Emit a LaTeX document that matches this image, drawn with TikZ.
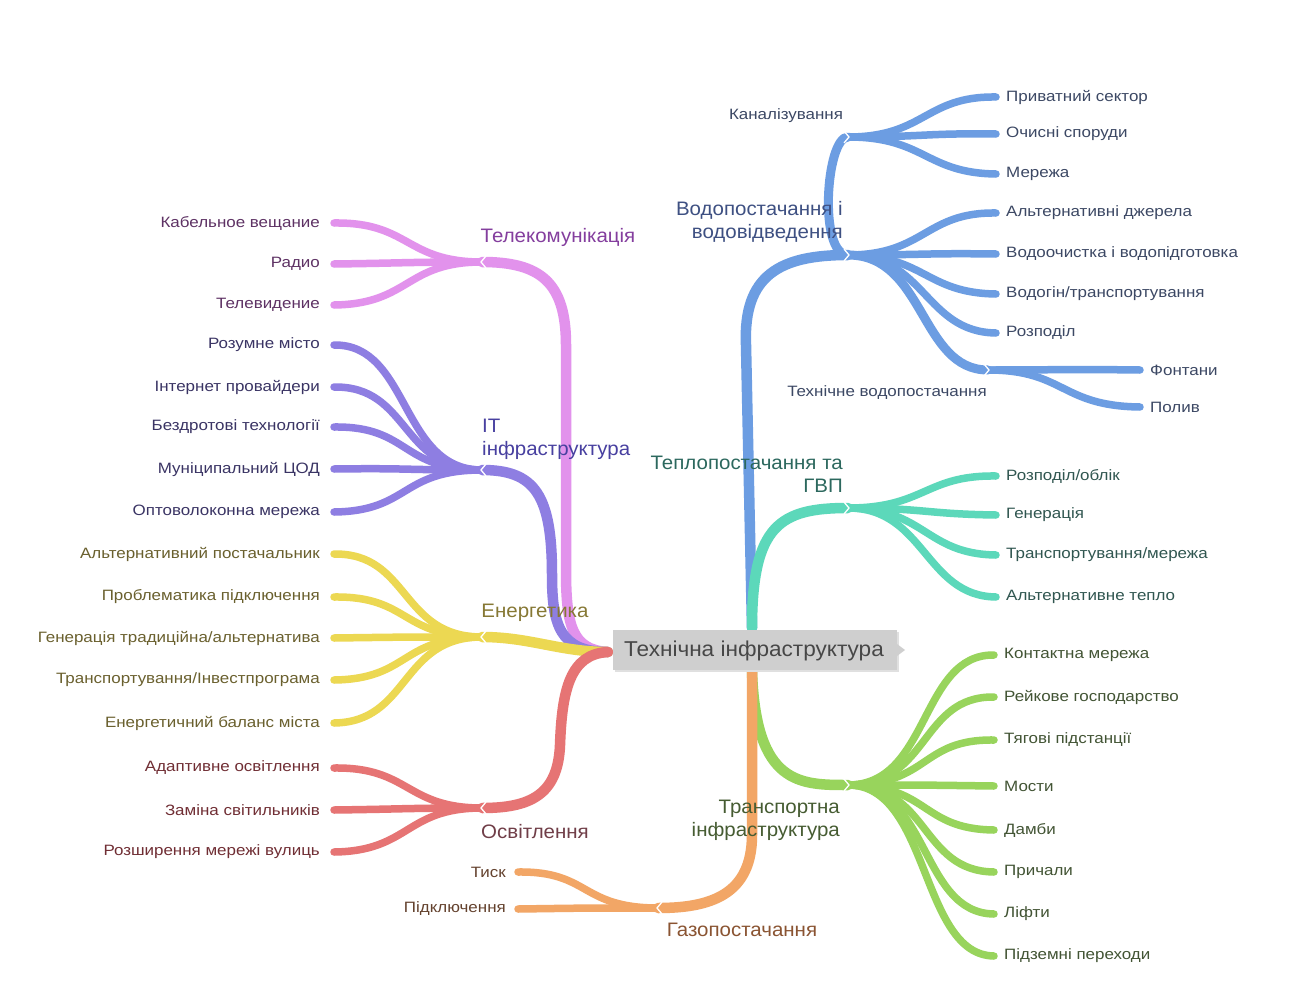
\documentclass[tikz,border=0pt]{standalone}
\usepackage{fontspec}
\setmainfont{Liberation Sans}
\newfontfamily\leaffont[FakeStretch=1.13]{Liberation Sans}
\newfontfamily\bigfont[FakeStretch=1.05]{Liberation Sans}
\usetikzlibrary{calc}
\definecolor{cB}{RGB}{108,157,226}
\definecolor{cT}{RGB}{92,216,186}
\definecolor{cG}{RGB}{152,212,92}
\definecolor{cO}{RGB}{242,166,102}
\definecolor{cR}{RGB}{230,116,116}
\definecolor{cY}{RGB}{236,216,82}
\definecolor{cV}{RGB}{142,126,226}
\definecolor{cP}{RGB}{226,146,236}
\definecolor{tB}{RGB}{60,72,100}
\definecolor{tT}{RGB}{48,86,80}
\definecolor{tG}{RGB}{66,84,52}
\definecolor{tO}{RGB}{100,66,46}
\definecolor{tR}{RGB}{112,46,52}
\definecolor{tY}{RGB}{106,96,46}
\definecolor{tV}{RGB}{58,52,100}
\definecolor{tP}{RGB}{94,50,100}
\definecolor{mB}{RGB}{62,80,130}
\definecolor{mT}{RGB}{44,104,94}
\definecolor{mG}{RGB}{70,92,50}
\definecolor{mO}{RGB}{138,84,50}
\definecolor{mR}{RGB}{112,62,72}
\definecolor{mY}{RGB}{134,120,52}
\definecolor{mV}{RGB}{72,64,160}
\definecolor{mP}{RGB}{132,62,158}
\begin{document}
\begin{tikzpicture}[x=1pt,y=-1pt,
  br/.style={line width=10.5pt,line cap=round},
  sb/.style={line width=9pt,line cap=round},
  lf/.style={line width=7.5pt,line cap=round},
  leafR/.style={anchor=west,inner sep=0pt,yshift=-1pt,font=\leaffont\fontsize{15}{16}\selectfont},
  leafL/.style={anchor=east,inner sep=0pt,yshift=-1pt,font=\leaffont\fontsize{15}{16}\selectfont},
  mainlbl/.style={inner sep=0pt,font=\bigfont\fontsize{19.5}{23}\selectfont},
  notch/.style={white,line width=1.3pt,line join=miter},
]
\useasboundingbox (0,0) rectangle (1291,993);
\fill[white] (0,0) rectangle (1291,993);

% ---------- coordinates ----------
\coordinate (ct) at (752,628);
\coordinate (cb) at (752,672);
\coordinate (cl) at (608,652);
\coordinate (hW) at (848,255);
\coordinate (hK) at (848,137);
\coordinate (hTW) at (988,370);
\coordinate (hH) at (848,508);
\coordinate (hTr) at (848,785);
\coordinate (hGas) at (658,908);
\coordinate (hL) at (482,808);
\coordinate (hE) at (482,637);
\coordinate (hIT) at (482,470);
\coordinate (hTel) at (482,262);

% ---------- main branches ----------
\draw[br,cB] (ct) -- (746,345) .. controls (743,275) and (780,255) .. (hW);
\draw[br,cT] (ct) .. controls (752,525) and (780,508) .. (hH);
\draw[br,cG] (cb) .. controls (756,785) and (800,785) .. (hTr);
\draw[br,cO] (cb) -- (752,835) .. controls (752,895) and (710,908) .. (hGas);
\draw[br,cP] (cl) .. controls (572,650) and (566,625) .. (566,570) -- (566,345) .. controls (566,282) and (540,262) .. (hTel);
\draw[br,cV] (cl) .. controls (560,652) and (552,625) .. (552,575) .. controls (552,495) and (535,470) .. (hIT);
\draw[br,cY] (cl) .. controls (560,652) and (530,637) .. (hE);
\draw[br,cR] (cl) .. controls (570,654) and (562,690) .. (560,745) .. controls (558,795) and (530,808) .. (hL);

% ---------- water ----------
\draw[sb,cB] (hW) .. controls (818,255) and (826,137) .. (hK);
\draw[sb,cB] (hW) .. controls (925,255) and (920,370) .. (hTW);
\foreach \n/\y/\t in {wk1/96/{Приватний сектор}, wk2/133/{Очисні споруди}, wk3/173/{Мережа}}{
  \node[leafR,text=tB] (\n) at (1006,\y) {\t};
  \draw[lf,cB] (hK) .. controls (925,137) and (925,\y) .. ([xshift=-10pt]\n.west);
}
\foreach \n/\y/\t in {w1/212/{Альтернативні джерела}, w2/253/{Водоочистка і водопідготовка}, w3/293/{Водогін/транспортування}, w4/332/{Розподіл}}{
  \node[leafR,text=tB] (\n) at (1006,\y) {\t};
  \draw[lf,cB] (hW) .. controls (925,255) and (925,\y) .. ([xshift=-10pt]\n.west);
}
\foreach \n/\y/\t in {wt1/369/{Фонтани}, wt2/406/{Полив}}{
  \node[leafR,text=tB] (\n) at (1150,\y) {\t};
  \draw[lf,cB] (hTW) .. controls (1065,370) and (1060,\y) .. ([xshift=-10pt]\n.west);
}
\draw[notch] ($(hK)+(-4,-6)$) -- ($(hK)+(1,0)$) -- ($(hK)+(-4,6)$);

% ---------- heat ----------
\foreach \n/\y/\t in {h1/475/{Розподіл/облік}, h2/514/{Генерація}, h3/554/{Транспортування/мережа}, h4/596/{Альтернативне тепло}}{
  \node[leafR,text=tT] (\n) at (1006,\y) {\t};
  \draw[lf,cT] (hH) .. controls (925,508) and (925,\y) .. ([xshift=-10pt]\n.west);
}

% ---------- transport ----------
\foreach \n/\y/\t in {g1/654/{Контактна мережа}, g2/696/{Рейкове господарство}, g3/739/{Тягові підстанції}, g4/785/{Мости}, g5/829/{Дамби}, g6/871/{Причали}, g7/913/{Ліфти}, g8/955/{Підземні переходи}}{
  \node[leafR,text=tG] (\n) at (1004,\y) {\t};
  \draw[lf,cG] (hTr) .. controls (930,785) and (920,\y) .. ([xshift=-10pt]\n.west);
}

% ---------- gas ----------
\foreach \n/\y/\t in {o1/871/{Тиск}, o2/908/{Підключення}}{
  \node[leafL,text=tO] (\n) at (506,\y) {\t};
  \draw[lf,cO] (hGas) .. controls (580,908) and (590,\y) .. ([xshift=12pt]\n.east);
}

% ---------- lighting ----------
\foreach \n/\y/\t in {r1/767/{Адаптивне освітлення}, r2/809/{Заміна світильників}, r3/851/{Розширення мережі вулиць}}{
  \node[leafL,text=tR] (\n) at (320,\y) {\t};
  \draw[lf,cR] (hL) .. controls (405,808) and (410,\y) .. ([xshift=14pt]\n.east);
}

% ---------- energy ----------
\foreach \n/\y/\t in {e1/553/{Альтернативний постачальник}, e2/596/{Проблематика підключення}, e3/637/{Генерація традиційна/альтернатива}, e4/679/{Транспортування/Інвестпрограма}, e5/722/{Енергетичний баланс міста}}{
  \node[leafL,text=tY] (\n) at (320,\y) {\t};
  \draw[lf,cY] (hE) .. controls (400,637) and (410,\y) .. ([xshift=14pt]\n.east);
}

% ---------- IT ----------
\foreach \n/\y/\t in {v1/344/{Розумне місто}, v2/386/{Інтернет провайдери}, v3/426/{Бездротові технології}, v4/468/{Муніципальний ЦОД}, v5/511/{Оптоволоконна мережа}}{
  \node[leafL,text=tV] (\n) at (320,\y) {\t};
  \draw[lf,cV] (hIT) .. controls (400,470) and (410,\y) .. ([xshift=14pt]\n.east);
}

% ---------- telecom ----------
\foreach \n/\y/\t in {p1/222/{Кабельное вещание}, p2/263/{Радио}, p3/304/{Телевидение}}{
  \node[leafL,text=tP] (\n) at (320,\y) {\t};
  \draw[lf,cP] (hTel) .. controls (405,262) and (410,\y) .. ([xshift=14pt]\n.east);
}

% ---------- notches ----------
\foreach \h in {hW,hTW,hH,hTr}{
  \draw[notch] ($(\h)+(-4,-6)$) -- ($(\h)+(1,0)$) -- ($(\h)+(-4,6)$);
}
\foreach \h in {hGas,hL,hE,hIT,hTel}{
  \draw[notch] ($(\h)+(4,-6)$) -- ($(\h)+(-1,0)$) -- ($(\h)+(4,6)$);
}

% ---------- centre ----------
\fill[black!12] (615,632) rectangle (899,672);
\fill[black!19] (613,630) rectangle (897,670);
\fill[black!19] (897,644) -- (905,650) -- (897,656) -- cycle;
\node[inner sep=0pt,text=black!72,font=\bigfont\fontsize{21.5}{24}\selectfont] (centre) at (754,651) {Технічна інфраструктура};

% ---------- branch labels ----------
\node[mainlbl,anchor=east,align=right,text=mB] (lW) at (843,222) {Водопостачання і\\водовідведення};
\node[inner sep=0pt,font=\leaffont\fontsize{15}{16}\selectfont,text=tB] (lK) at (786,116) {Каналізування};
\node[inner sep=0pt,font=\leaffont\fontsize{15}{16}\selectfont,text=tB] (lTW) at (887,393) {Технічне водопостачання};
\node[mainlbl,anchor=east,align=right,text=mT] (lH) at (843,474) {Теплопостачання та\\ГВП};
\node[mainlbl,anchor=east,align=right,text=mG] (lTr) at (840,820) {Транспортна\\інфраструктура};
\node[mainlbl,text=mO] (lGas) at (742,930) {Газопостачання};
\node[mainlbl,text=mR] (lL) at (535,832) {Освітлення};
\node[mainlbl,text=mY] (lE) at (535,613) {Енергетика};
\node[mainlbl,anchor=west,align=left,text=mV] (lIT) at (482,439) {IT\\інфраструктура};
\node[mainlbl,text=mP] (lTel) at (558,237) {Телекомунікація};
\end{tikzpicture}
\end{document}
